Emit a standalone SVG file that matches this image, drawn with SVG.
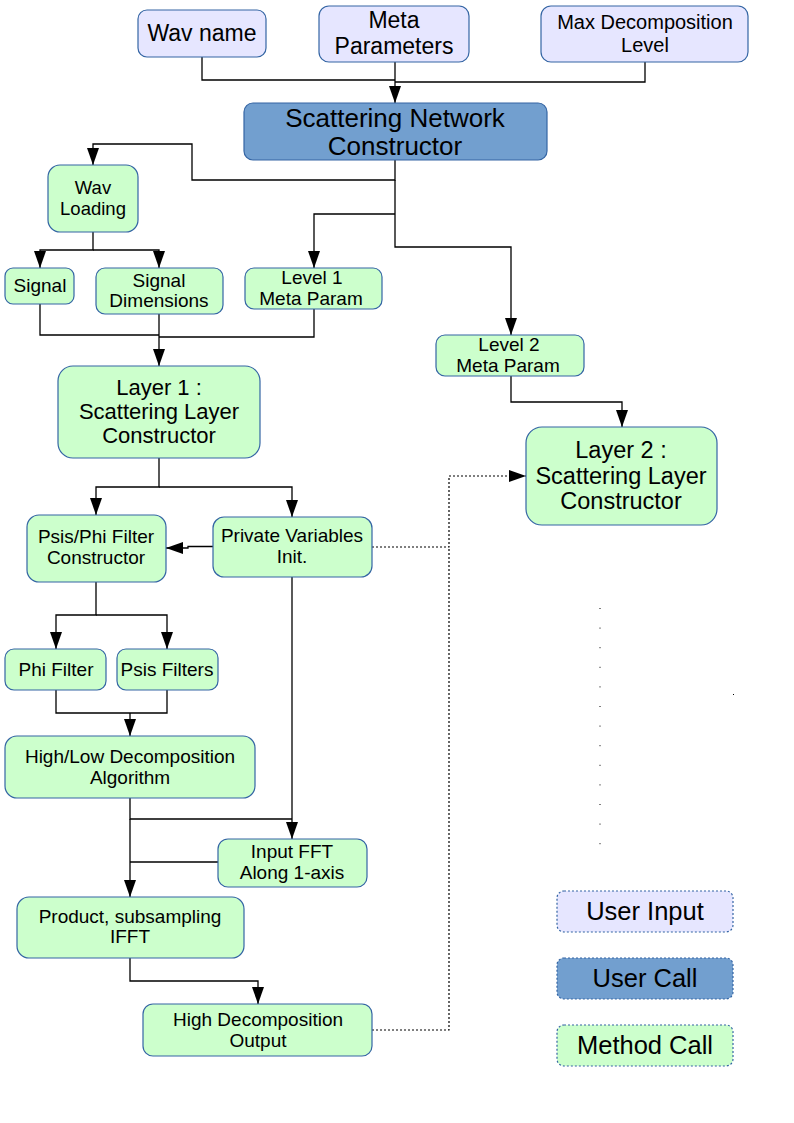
<svg xmlns="http://www.w3.org/2000/svg" width="794" height="1123" viewBox="0 0 794 1123">
<defs>
<style>
.bx{stroke:#3465a4;stroke-width:1.2}
.ui{fill:#e6e6ff}
.uc{fill:#729fcf}
.mc{fill:#ccffcc}
.lg{stroke-dasharray:2 2}
text{font-family:"Liberation Sans",Arial,sans-serif;fill:#000;text-anchor:middle}
.f19{font-size:19px}
.c{fill:none;stroke:#000;stroke-width:1.3}
.d{fill:none;stroke:#000;stroke-width:1.2;stroke-dasharray:2 2}
</style>
<marker id="ah" viewBox="0 0 17 12" refX="17" refY="6" markerWidth="17" markerHeight="12" markerUnits="userSpaceOnUse" orient="auto">
<path d="M0,0 L17,6 L0,12 z" fill="#000"/>
</marker>
</defs>
<rect width="794" height="1123" fill="#fff"/>

<g id="connectors">
<path class="c" d="M202,57 V80 H395"/>
<path class="c" d="M645,62 V82 H395"/>
<path class="c" d="M395,62 V103" marker-end="url(#ah)"/>
<path class="c" d="M395,160 V180 H192 V144 H93 V165" marker-end="url(#ah)"/>
<path class="c" d="M395,180 V247 H511 V335" marker-end="url(#ah)"/>
<path class="c" d="M395,214 H314 V268" marker-end="url(#ah)"/>
<path class="c" d="M93,232 V250 H40 V268" marker-end="url(#ah)"/>
<path class="c" d="M93,250 H159 V268" marker-end="url(#ah)"/>
<path class="c" d="M40,304 V335 H159"/>
<path class="c" d="M314,309 V337 H159"/>
<path class="c" d="M159,314 V366" marker-end="url(#ah)"/>
<path class="c" d="M511,376 V402 H622 V427" marker-end="url(#ah)"/>
<path class="c" d="M159,458 V487 H96 V515" marker-end="url(#ah)"/>
<path class="c" d="M159,487 H292 V517" marker-end="url(#ah)"/>
<path class="c" d="M213,546.5 H188 V548 H166" marker-end="url(#ah)"/>
<path class="c" d="M96,582 V615 H56 V649" marker-end="url(#ah)"/>
<path class="c" d="M96,615 H167 V649" marker-end="url(#ah)"/>
<path class="c" d="M56,690 V713 H167 V690"/>
<path class="c" d="M130,713 V736" marker-end="url(#ah)"/>
<path class="c" d="M292,577 V839" marker-end="url(#ah)"/>
<path class="c" d="M130,798 V819 H292"/>
<path class="c" d="M130,819 V897" marker-end="url(#ah)"/>
<path class="c" d="M218,862 H130"/>
<path class="c" d="M130,958 V981 H258 V1004" marker-end="url(#ah)"/>
<path class="d" d="M372,547 H449 V476 H526" marker-end="url(#ah)"/>
<path class="d" d="M372,1030 H449 V547"/>
<path d="M600,608 V845" stroke="#000" stroke-width="1" stroke-dasharray="1 18.6" fill="none"/>
<rect x="733" y="694" width="1" height="1" fill="#000"/>
</g>

<g id="wav-name"><rect class="bx ui" x="138" y="10" width="128" height="47" rx="9"/>
<text x="202" y="41" font-size="23">Wav name</text></g>

<g id="meta-parameters"><rect class="bx ui" x="319" y="6" width="150" height="56" rx="10"/>
<text x="394" y="28" font-size="23">Meta</text><text x="394" y="54" font-size="23">Parameters</text></g>

<g id="max-decomposition-level"><rect class="bx ui" x="541" y="6" width="207" height="56" rx="10"/>
<text x="645" y="29" font-size="20">Max Decomposition</text><text x="645" y="52" font-size="20">Level</text></g>

<g id="scattering-network-constructor"><rect class="bx uc" x="244" y="103" width="303" height="57" rx="9"/>
<text x="395" y="127" font-size="26">Scattering Network</text><text x="395" y="155" font-size="26">Constructor</text></g>

<g id="wav-loading"><rect class="bx mc" x="48" y="165" width="90" height="67" rx="12"/>
<text x="93" y="194" font-size="18.5">Wav</text><text x="93" y="215" font-size="18.5">Loading</text></g>

<g id="signal"><rect class="bx mc" x="5" y="268" width="69" height="36" rx="8"/>
<text class="f19" x="40" y="292">Signal</text></g>

<g id="signal-dimensions"><rect class="bx mc" x="96" y="268" width="127" height="46" rx="9"/>
<text class="f19" x="159" y="287">Signal</text><text class="f19" x="159" y="307">Dimensions</text></g>

<g id="level1-meta-param"><rect class="bx mc" x="245" y="268" width="137" height="41" rx="9"/>
<text class="f19" x="312" y="284">Level 1</text><text class="f19" x="311" y="305">Meta Param</text></g>

<g id="level2-meta-param"><rect class="bx mc" x="436" y="335" width="148" height="41" rx="9"/>
<text class="f19" x="509" y="351">Level 2</text><text class="f19" x="508" y="372">Meta Param</text></g>

<g id="layer1"><rect class="bx mc" x="58" y="366" width="202" height="92" rx="15"/>
<text x="159" y="395" font-size="22">Layer 1 :</text><text x="159" y="419" font-size="22">Scattering Layer</text><text x="159" y="443" font-size="22">Constructor</text></g>

<g id="layer2"><rect class="bx mc" x="526" y="427" width="191" height="98" rx="16"/>
<text x="621" y="458" font-size="23.5">Layer 2 :</text><text x="621" y="484" font-size="23.5">Scattering Layer</text><text x="621" y="509" font-size="23.5">Constructor</text></g>

<g id="psis-phi-filter-constructor"><rect class="bx mc" x="27" y="515" width="139" height="67" rx="12"/>
<text class="f19" x="96" y="543">Psis/Phi Filter</text><text class="f19" x="96" y="564">Constructor</text></g>

<g id="private-variables-init"><rect class="bx mc" x="213" y="517" width="159" height="60" rx="11"/>
<text class="f19" x="292" y="542">Private Variables</text><text class="f19" x="292" y="563">Init.</text></g>

<g id="phi-filter"><rect class="bx mc" x="5" y="649" width="101" height="41" rx="9"/>
<text class="f19" x="56" y="676">Phi Filter</text></g>

<g id="psis-filters"><rect class="bx mc" x="117" y="649" width="101" height="41" rx="9"/>
<text class="f19" x="167" y="676">Psis Filters</text></g>

<g id="high-low-decomposition"><rect class="bx mc" x="5" y="736" width="250" height="62" rx="12"/>
<text class="f19" x="130" y="763">High/Low Decomposition</text><text class="f19" x="130" y="784">Algorithm</text></g>

<g id="input-fft"><rect class="bx mc" x="218" y="839" width="149" height="48" rx="10"/>
<text class="f19" x="292" y="858">Input FFT</text><text class="f19" x="292" y="879">Along 1-axis</text></g>

<g id="product-subsampling-ifft"><rect class="bx mc" x="17" y="897" width="227" height="61" rx="12"/>
<text class="f19" x="130" y="923">Product, subsampling</text><text class="f19" x="130" y="943">IFFT</text></g>

<g id="high-decomposition-output"><rect class="bx mc" x="143" y="1004" width="229" height="52" rx="10"/>
<text class="f19" x="258" y="1026">High Decomposition</text><text class="f19" x="258" y="1047">Output</text></g>

<g id="legend-user-input"><rect class="bx ui lg" x="557" y="891" width="176" height="41" rx="7"/>
<text x="645" y="920" font-size="25.5">User Input</text></g>

<g id="legend-user-call"><rect class="bx uc lg" x="557" y="958" width="176" height="41" rx="7"/>
<text x="645" y="987" font-size="25.5">User Call</text></g>

<g id="legend-method-call"><rect class="bx mc lg" x="557" y="1025" width="176" height="41" rx="7"/>
<text x="645" y="1054" font-size="25.5">Method Call</text></g>
</svg>
